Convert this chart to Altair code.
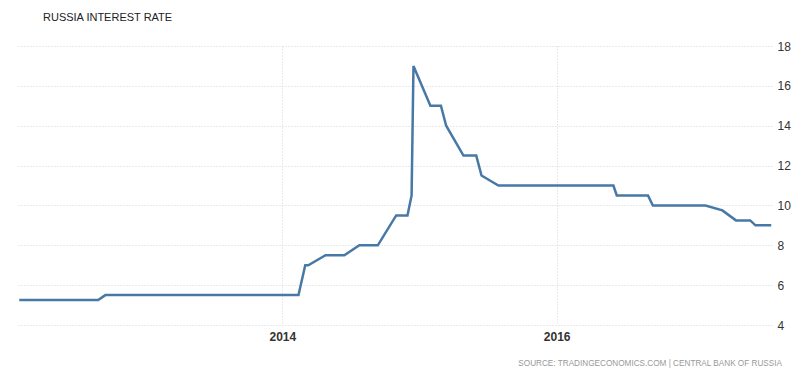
import altair as alt
import pandas as pd

dates = [
    "2012-02-01", "2012-08-29", "2012-09-17", "2014-02-13", "2014-03-03",
    "2014-03-11", "2014-04-26", "2014-06-15", "2014-07-25", "2014-09-12",
    "2014-10-31", "2014-11-30", "2014-12-11", "2014-12-16", "2015-01-30",
    "2015-02-27", "2015-03-13", "2015-04-28", "2015-06-01", "2015-06-15",
    "2015-07-30", "2016-05-31", "2016-06-09", "2016-08-31", "2016-09-13",
    "2017-01-31", "2017-03-17", "2017-04-22", "2017-05-30", "2017-06-13",
    "2017-07-25",
]
rates = [
    5.25, 5.25, 5.5, 5.5, 7.0,
    7.0, 7.5, 7.5, 8.0, 8.0,
    9.5, 9.5, 10.5, 17.0, 15.0,
    15.0, 14.0, 12.5, 12.5, 11.5,
    11.0, 11.0, 10.5, 10.5, 10.0,
    10.0, 9.75, 9.25, 9.25, 9.0,
    9.0,
]
y_ticks = [4, 6, 8, 10, 12, 14, 16, 18]
x_tick_years = [2014, 2016]
title_text = "RUSSIA INTEREST RATE"
source_text = "SOURCE: TRADINGECONOMICS.COM | CENTRAL BANK OF RUSSIA"

df = pd.DataFrame({"date": dates, "rate": rates})

x_scale = alt.Scale(
    type="utc",
    domain=[alt.DateTime(year=2012, month=1, date=26, utc=True),
            alt.DateTime(year=2017, month=7, date=27, utc=True)],
)

line = alt.Chart(df).mark_line(color="#4878a6", strokeWidth=2.5, clip=True).encode(
    x=alt.X(
        "date:T",
        scale=x_scale,
        axis=alt.Axis(
            title=None,
            values=[alt.DateTime(year=y, month=1, date=1, utc=True) for y in x_tick_years],
            format="%Y",
            domain=False,
            ticks=False,
            grid=True,
            gridColor="#d4d4dc",
            gridDash=[1, 2],
            gridWidth=1,
            labelFont="Liberation Sans",
            labelFontSize=12,
            labelFontWeight="bold",
            labelColor="#333333",
            labelPadding=6,
        ),
    ),
    y=alt.Y(
        "rate:Q",
        scale=alt.Scale(domain=[4, 18], nice=False, zero=False),
        axis=alt.Axis(
            title=None,
            orient="right",
            values=y_ticks,
            domain=False,
            ticks=False,
            grid=True,
            gridColor="#d4d4d4",
            gridDash=[1, 2],
            gridWidth=1,
            labelFont="Liberation Sans",
            labelFontSize=12,
            labelColor="#333333",
            labelPadding=5,
        ),
    ),
)

title = alt.Chart(pd.DataFrame({"t": [title_text]})).mark_text(
    align="left", baseline="middle", font="Liberation Sans", fontSize=11,
    color="#222222", clip=False,
).encode(text="t:N", x=alt.value(26), y=alt.value(-28))

source = alt.Chart(pd.DataFrame({"t": [source_text]})).mark_text(
    align="right", baseline="middle", font="Liberation Sans", fontSize=8.2,
    color="#999999", clip=False,
).encode(text="t:N", x=alt.value(765), y=alt.value(318))

chart = alt.layer(line, title, source).properties(
    width=755,
    height=279,
    autosize=alt.AutoSizeParams(type="none"),
    padding={"left": 17, "top": 46, "right": 28, "bottom": 60},
    background="white",
).configure_view(stroke=None)

chart.save("out.html", embed_options={"renderer": "svg", "actions": False})
